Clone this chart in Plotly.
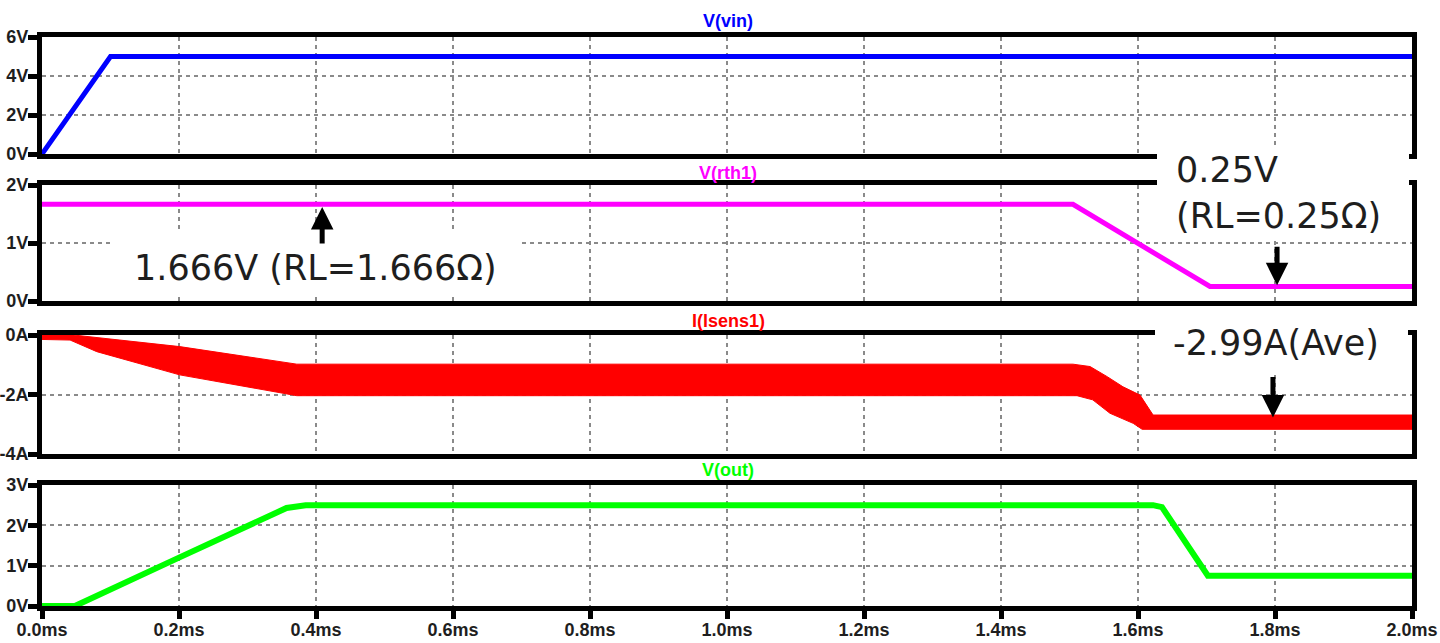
import plotly.graph_objects as go

W, H = 1440, 643

# ---------------- data ----------------
time_ticks = [0.0, 0.2, 0.4, 0.6, 0.8, 1.0, 1.2, 1.4, 1.6, 1.8, 2.0]
time_tick_labels = ["0.0ms", "0.2ms", "0.4ms", "0.6ms", "0.8ms", "1.0ms",
                    "1.2ms", "1.4ms", "1.6ms", "1.8ms", "2.0ms"]

vin_t = [0.0, 0.1, 2.0]
vin_v = [0.0, 5.0, 5.0]
vin_ticks = [0, 2, 4, 6]
vin_tick_labels = ["0V", "2V", "4V", "6V"]

rth1_t = [0.0, 1.505, 1.705, 2.0]
rth1_v = [1.666, 1.666, 0.25, 0.25]
rth1_ticks = [0, 1, 2]
rth1_tick_labels = ["0V", "1V", "2V"]

# I(lsens1) ripple band: upper / lower envelopes
isens_upper_t = [0.0, 0.046, 0.201, 0.372, 1.505, 1.530, 1.555, 1.578, 1.603, 1.622, 2.0]
isens_upper_a = [0.0, 0.0, -0.39, -0.98, -0.98, -1.06, -1.40, -1.74, -2.02, -2.69, -2.69]
isens_lower_t = [0.0, 0.041, 0.080, 0.201, 0.372, 1.511, 1.534, 1.559, 1.593, 1.606, 2.0]
isens_lower_a = [-0.15, -0.17, -0.56, -1.34, -2.04, -2.04, -2.18, -2.63, -2.97, -3.17, -3.17]
isens_ticks = [-4, -2, 0]
isens_tick_labels = ["-4A", "-2A", "0A"]

vout_t = [0.0, 0.048, 0.2, 0.318, 0.357, 0.385, 1.622, 1.635, 1.702, 2.0]
vout_v = [0.0, 0.0, 1.2, 2.13, 2.43, 2.5, 2.5, 2.45, 0.75, 0.75]
vout_ticks = [0, 1, 2, 3]
vout_tick_labels = ["0V", "1V", "2V", "3V"]

titles = ["V(vin)", "V(rth1)", "I(lsens1)", "V(out)"]
colors = ["#0000ff", "#ff00ff", "#ff0000", "#00ff00"]

# ---------------- layout helpers ----------------
def px(p):
    return p / W

def py(p):
    return 1 - p / H

x_dom = [px(42), px(1412)]
panels_px = [(37, 154), (185, 301), (335, 454), (485, 606)]
title_y_px = [21, 173, 321, 470]

fig = go.Figure()

fig.add_trace(go.Scatter(x=vin_t, y=vin_v, mode="lines",
                         line=dict(color=colors[0], width=5),
                         xaxis="x", yaxis="y", showlegend=False))
fig.add_trace(go.Scatter(x=rth1_t, y=rth1_v, mode="lines",
                         line=dict(color=colors[1], width=5),
                         xaxis="x2", yaxis="y2", showlegend=False))
fig.add_trace(go.Scatter(x=isens_upper_t + isens_lower_t[::-1],
                         y=isens_upper_a + isens_lower_a[::-1],
                         mode="lines", fill="toself", fillcolor=colors[2],
                         line=dict(color=colors[2], width=1),
                         xaxis="x3", yaxis="y3", showlegend=False))
fig.add_trace(go.Scatter(x=vout_t, y=vout_v, mode="lines",
                         line=dict(color=colors[3], width=6),
                         xaxis="x4", yaxis="y4", showlegend=False))

tick_font = dict(family="Liberation Sans", size=18, color="#1e1e1e", weight="bold")
grid_common = dict(showgrid=True, gridcolor="#8a8a8a", gridwidth=1.5, griddash="4px,4px",
                   zeroline=False, showline=True, linecolor="black", linewidth=5,
                   mirror=True, automargin=False)

yinfo = [
    ([0, 6], vin_ticks, vin_tick_labels),
    ([0, 2], rth1_ticks, rth1_tick_labels),
    ([-4, 0], isens_ticks, isens_tick_labels),
    ([0, 3], vout_ticks, vout_tick_labels),
]

layout = dict(width=W, height=H, margin=dict(l=0, r=0, t=0, b=0, autoexpand=False),
              paper_bgcolor="white", plot_bgcolor="white", showlegend=False)

for i in range(4):
    top, bot = panels_px[i]
    xa = "xaxis" if i == 0 else f"xaxis{i+1}"
    ya = "yaxis" if i == 0 else f"yaxis{i+1}"
    anchor_y = "y" if i == 0 else f"y{i+1}"
    anchor_x = "x" if i == 0 else f"x{i+1}"
    last = (i == 3)
    layout[xa] = dict(domain=x_dom, range=[0, 2.0], anchor=anchor_y,
                      tickvals=time_ticks,
                      ticktext=time_tick_labels if last else [""] * len(time_ticks),
                      ticks="outside" if last else "", ticklen=8, tickwidth=5,
                      tickcolor="black", tickfont=tick_font,
                      ticklabelstandoff=-5,
                      showticklabels=last, **grid_common)
    rng, tv, tt = yinfo[i]
    layout[ya] = dict(domain=[py(bot), py(top)], range=rng, anchor=anchor_x,
                      tickvals=tv, ticktext=tt, ticks="outside", ticklen=9,
                      tickwidth=5, tickcolor="black", tickfont=tick_font,
                      ticklabelstandoff=-4, **grid_common)

fig.update_layout(**layout)

# white cover boxes behind the annotation texts
covers = [
    (1157, 145, 1409, 238),
    (1155, 326, 1408, 372),
    (113, 233, 520, 297),
]
for x0, y0, x1, y1 in covers:
    fig.add_shape(type="rect", xref="paper", yref="paper",
                  x0=px(x0), x1=px(x1), y0=py(y1), y1=py(y0),
                  fillcolor="white", line=dict(width=0), layer="above")

# panel titles
for i in range(4):
    fig.add_annotation(text=titles[i], xref="paper", yref="paper",
                       x=px(728), y=py(title_y_px[i]), showarrow=False,
                       xanchor="center", yanchor="middle",
                       font=dict(family="Liberation Sans", size=18,
                                 color=colors[i], weight="bold"))

note_font = dict(family="DejaVu Sans", size=35, color="#1e1e1e")

fig.add_annotation(text="1.666V (RL=1.666Ω)", xref="paper", yref="paper",
                   x=px(132), y=py(268), xanchor="left", yanchor="middle",
                   showarrow=False, font=note_font)
fig.add_annotation(text="0.25V<br>(RL=0.25Ω)", xref="paper", yref="paper",
                   x=px(1174), y=py(193), xanchor="left", yanchor="middle",
                   align="left", showarrow=False, font=note_font)
fig.add_annotation(text="-2.99A(Ave)", xref="paper", yref="paper",
                   x=px(1171), y=py(343), xanchor="left", yanchor="middle",
                   showarrow=False, font=note_font)

# arrows
arrow_common = dict(text="", showarrow=True, arrowhead=2, arrowsize=0.9,
                    arrowwidth=5, arrowcolor="black", ax=0, standoff=0)
fig.add_annotation(x=0.409, y=1.62, xref="x2", yref="y2", ay=38, **arrow_common)
fig.add_annotation(x=1.803, y=0.27, xref="x2", yref="y2", ay=-40, **arrow_common)
fig.add_annotation(x=1.797, y=-2.77, xref="x3", yref="y3", ay=-42, **arrow_common)

fig.write_html("out.html")
